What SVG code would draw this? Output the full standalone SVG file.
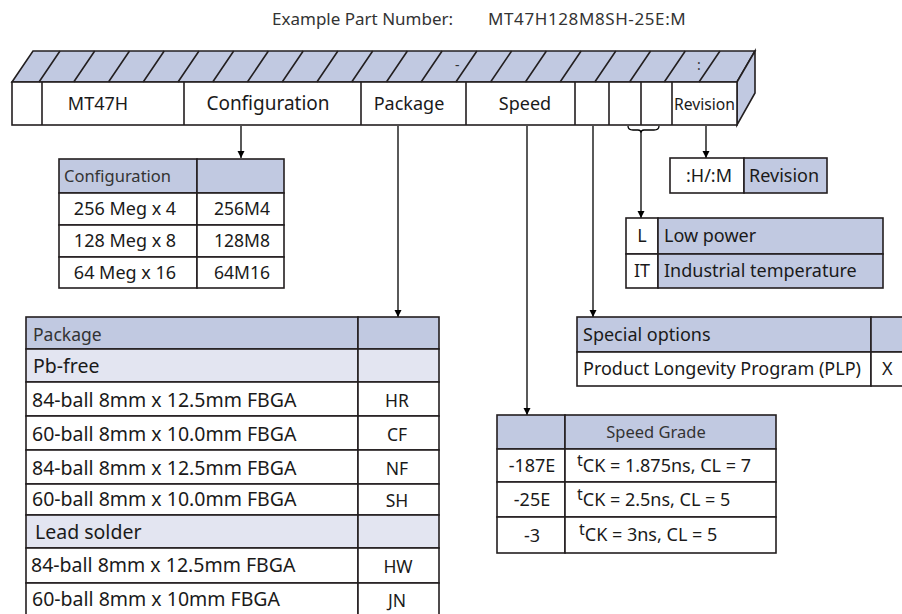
<svg xmlns="http://www.w3.org/2000/svg" width="902" height="614" viewBox="0 0 902 614">
<defs>
<style>
.t{font-family:"Noto Sans","Open Sans","DejaVu Sans",sans-serif;font-size:18px;fill:#1a1a1a}
.p{font-size:19.5px}
.k{font-size:17.5px}
.h{font-family:"Noto Sans","Open Sans","DejaVu Sans",sans-serif;font-size:16.5px;fill:#333}
.c{text-anchor:middle}
.b{fill:#c1c9e1;stroke:#231f20;stroke-width:1.6}
.l{fill:#e3e5f1;stroke:#231f20;stroke-width:1.6}
.w{fill:#fff;stroke:#231f20;stroke-width:1.6}
.ln{stroke:#231f20;stroke-width:1.6;fill:none}
.cn{stroke:#000;stroke-width:1.3;fill:none}
</style>
<marker id="ah" viewBox="0 0 10 10" refX="10" refY="5" markerWidth="7" markerHeight="9" markerUnits="userSpaceOnUse" orient="auto"><path d="M0,0 L10,5 L0,10 z" fill="#000"/></marker>
</defs>
<rect width="902" height="614" fill="#fff"/>

<g id="title">
<text class="h" x="272" y="25" style="font-size:17px">Example Part Number:</text>
<text class="h" x="488" y="25" style="font-size:17px;letter-spacing:0.6px">MT47H128M8SH-25E:M</text>
</g>

<g id="partbar">
<polygon class="b" points="12,82 33,51 755,51 737,82"/>
<polygon class="b" points="737,82 755,51 755,93 737,125"/>
<rect class="w" x="12" y="82" width="725" height="43"/>
<g class="ln">
<path d="M60,51 L39,82 M94.7,51 L73.7,82 M129.5,51 L108.5,82 M164.2,51 L143.2,82 M199,51 L178,82 M233.7,51 L212.7,82 M268.4,51 L247.4,82 M303.2,51 L282.2,82 M337.9,51 L316.9,82 M372.7,51 L351.7,82 M407.4,51 L386.4,82 M442.1,51 L421.1,82 M476.9,51 L455.9,82 M511.6,51 L490.6,82 M546.4,51 L525.4,82 M581.1,51 L560.1,82 M615.8,51 L594.8,82 M650.6,51 L629.6,82 M685.3,51 L664.3,82 M720,51 L699,82"/>
<path d="M42,82 V125 M184,82 V125 M361,82 V125 M466,82 V125 M575,82 V125 M609,82 V125 M641,82 V125 M672,82 V125"/>
</g>
<text class="h" x="455" y="70" style="font-size:14px">-</text>
<text class="h" x="697" y="70" style="font-size:14px">:</text>
<text class="t c" x="98" y="110">MT47H</text>
<text class="t c" x="268" y="110" style="font-size:19px">Configuration</text>
<text class="t c" x="409" y="110">Package</text>
<text class="t c" x="525" y="110">Speed</text>
<text class="t" x="674" y="110" style="font-size:17px" textLength="61" lengthAdjust="spacingAndGlyphs">Revision</text>
</g>

<g id="connectors">
<line class="cn" x1="241" y1="126" x2="241" y2="158" marker-end="url(#ah)"/>
<line class="cn" x1="398" y1="126" x2="398" y2="317" marker-end="url(#ah)"/>
<line class="cn" x1="527" y1="126" x2="527" y2="415" marker-end="url(#ah)"/>
<line class="cn" x1="593" y1="126" x2="593" y2="317" marker-end="url(#ah)"/>
<line class="cn" x1="706" y1="126" x2="706" y2="158" marker-end="url(#ah)"/>
<path class="cn" d="M628,126 Q628,130 633,130 L638,130 Q641,130 641,133 Q641,130 644,130 L654,130 Q659,130 659,126"/>
<line class="cn" x1="641" y1="133" x2="641" y2="218" marker-end="url(#ah)"/>
</g>

<g id="revision">
<rect class="w" x="670" y="158" width="74" height="35"/>
<rect class="b" x="744" y="158" width="83" height="35"/>
<text class="t c" x="709" y="182">:H/:M</text>
<text class="t" x="749" y="182">Revision</text>
</g>

<g id="config-table">
<rect class="b" x="59" y="159" width="138" height="34"/>
<rect class="b" x="197" y="159" width="87" height="34"/>
<rect class="w" x="59" y="193" width="138" height="32"/>
<rect class="w" x="197" y="193" width="87" height="32"/>
<rect class="w" x="59" y="225" width="138" height="32"/>
<rect class="w" x="197" y="225" width="87" height="32"/>
<rect class="w" x="59" y="257" width="138" height="31"/>
<rect class="w" x="197" y="257" width="87" height="31"/>
<text class="h" x="64" y="182">Configuration</text>
<text class="t c" x="125" y="215">256 Meg x 4</text>
<text class="t c" x="242" y="215" style="font-size:17.5px">256M4</text>
<text class="t c" x="125" y="247">128 Meg x 8</text>
<text class="t c" x="242" y="247" style="font-size:17.5px">128M8</text>
<text class="t c" x="125" y="279">64 Meg x 16</text>
<text class="t c" x="242" y="279" style="font-size:17.5px">64M16</text>
</g>

<g id="package-table">
<rect class="b" x="26" y="317" width="332" height="32"/>
<rect class="b" x="358" y="317" width="81" height="32"/>
<rect class="l" x="26" y="349" width="332" height="33"/>
<rect class="l" x="358" y="349" width="81" height="33"/>
<rect class="w" x="26" y="382" width="332" height="34"/>
<rect class="w" x="358" y="382" width="81" height="34"/>
<rect class="w" x="26" y="416" width="332" height="34"/>
<rect class="w" x="358" y="416" width="81" height="34"/>
<rect class="w" x="26" y="450" width="332" height="34"/>
<rect class="w" x="358" y="450" width="81" height="34"/>
<rect class="w" x="26" y="484" width="332" height="31"/>
<rect class="w" x="358" y="484" width="81" height="31"/>
<rect class="l" x="26" y="515" width="332" height="33"/>
<rect class="l" x="358" y="515" width="81" height="33"/>
<rect class="w" x="26" y="548" width="332" height="35"/>
<rect class="w" x="358" y="548" width="81" height="35"/>
<rect class="w" x="26" y="583" width="332" height="36"/>
<rect class="w" x="358" y="583" width="81" height="36"/>
<text class="h" x="33" y="341" style="font-size:17.5px">Package</text>
<text class="t p" x="33" y="373">Pb-free</text>
<text class="t p" x="32" y="407">84-ball 8mm x 12.5mm FBGA</text>
<text class="t p" x="32" y="441">60-ball 8mm x 10.0mm FBGA</text>
<text class="t p" x="32" y="475">84-ball 8mm x 12.5mm FBGA</text>
<text class="t p" x="32" y="506">60-ball 8mm x 10.0mm FBGA</text>
<text class="t p" x="35" y="539">Lead solder</text>
<text class="t p" x="31" y="572">84-ball 8mm x 12.5mm FBGA</text>
<text class="t p" x="32" y="606">60-ball 8mm x 10mm FBGA</text>
<text class="t c k" x="397" y="407">HR</text>
<text class="t c k" x="397" y="441">CF</text>
<text class="t c k" x="397" y="475">NF</text>
<text class="t c k" x="397" y="507">SH</text>
<text class="t c k" x="398" y="573">HW</text>
<text class="t c k" x="397" y="607">JN</text>
</g>

<g id="speed-table">
<rect class="b" x="497" y="415" width="68" height="34"/>
<rect class="b" x="565" y="415" width="211" height="34"/>
<rect class="w" x="497" y="449" width="68" height="33"/>
<rect class="w" x="565" y="449" width="211" height="33"/>
<rect class="w" x="497" y="482" width="68" height="35"/>
<rect class="w" x="565" y="482" width="211" height="35"/>
<rect class="w" x="497" y="517" width="68" height="36"/>
<rect class="w" x="565" y="517" width="211" height="36"/>
<text class="h c" x="656" y="438">Speed Grade</text>
<text class="t c" x="532" y="472">-187E</text>
<text class="t c" x="532" y="506">-25E</text>
<text class="t c" x="532" y="542">-3</text>
<text class="t" x="577" y="472"><tspan dy="-6" style="font-size:16px">t</tspan><tspan dy="6">CK = 1.875ns, CL = 7</tspan></text>
<text class="t" x="577" y="506"><tspan dy="-6" style="font-size:16px">t</tspan><tspan dy="6">CK = 2.5ns, CL = 5</tspan></text>
<text class="t" x="579" y="541"><tspan dy="-6" style="font-size:16px">t</tspan><tspan dy="6">CK = 3ns, CL = 5</tspan></text>
</g>

<g id="options-table">
<rect class="w" x="626" y="218" width="32" height="36"/>
<rect class="b" x="658" y="218" width="225" height="36"/>
<rect class="w" x="626" y="254" width="32" height="34"/>
<rect class="b" x="658" y="254" width="225" height="34"/>
<text class="t c" x="642" y="242">L</text>
<text class="t c" x="642" y="277">IT</text>
<text class="t" x="664" y="242">Low power</text>
<text class="t" x="664" y="277">Industrial temperature</text>
</g>

<g id="special-table">
<rect class="b" x="577" y="317" width="294" height="35"/>
<rect class="b" x="871" y="317" width="40" height="35"/>
<rect class="w" x="577" y="352" width="294" height="34"/>
<rect class="w" x="871" y="352" width="40" height="34"/>
<text class="t" x="583" y="341">Special options</text>
<text class="t" x="583" y="375">Product Longevity Program (PLP)</text>
<text class="t" x="882" y="375">X</text>
</g>
</svg>
